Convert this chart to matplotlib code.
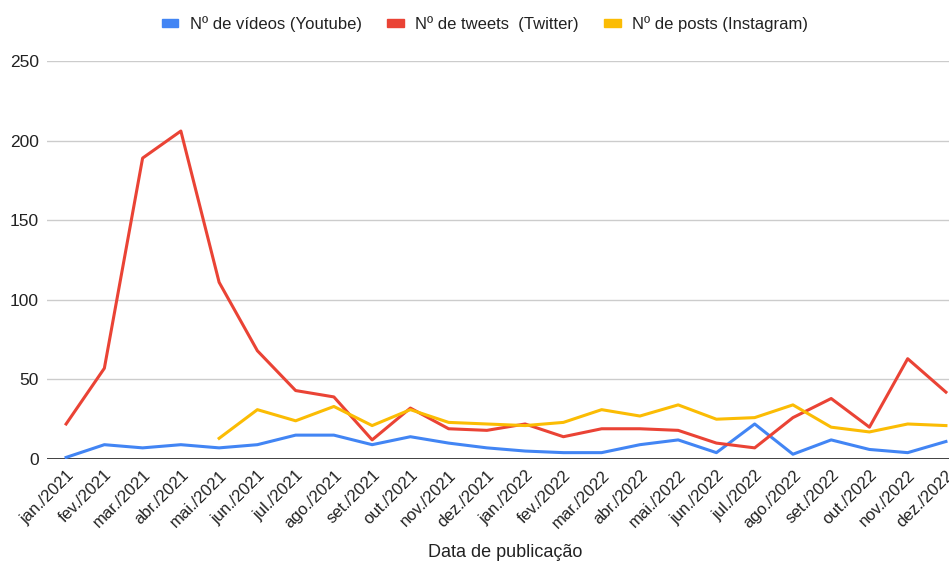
import matplotlib
matplotlib.use("Agg")
import matplotlib.pyplot as plt
from matplotlib.patches import Patch

plt.rcParams['font.family'] = ['Liberation Sans', 'DejaVu Sans']

months = ['jan./2021', 'fev./2021', 'mar./2021', 'abr./2021', 'mai./2021', 'jun./2021',
          'jul./2021', 'ago./2021', 'set./2021', 'out./2021', 'nov./2021', 'dez./2021',
          'jan./2022', 'fev./2022', 'mar./2022', 'abr./2022', 'mai./2022', 'jun./2022',
          'jul./2022', 'ago./2022', 'set./2022', 'out./2022', 'nov./2022', 'dez./2022']
youtube = [1, 9, 7, 9, 7, 9, 15, 15, 9, 14, 10, 7, 5, 4, 4, 9, 12, 4, 22, 3, 12, 6, 4, 11]
twitter = [22, 57, 189, 206, 111, 68, 43, 39, 12, 32, 19, 18, 22, 14, 19, 19, 18, 10, 7, 26, 38, 20, 63, 42]
# instagram starts in mai./2021
instagram = [None, None, None, None, 13, 31, 24, 33, 21, 31, 23, 22, 21, 23, 31, 27, 34, 25, 26, 34, 20, 17, 22, 21]

c_yt = '#4285F4'
c_tw = '#EA4335'
c_ig = '#FBBC04'

fig = plt.figure(figsize=(9.49, 5.63), dpi=100)
ax = fig.add_axes([0.0495, 0.1847, 0.9505, 0.707])

x = list(range(len(months)))
ig_x = [i for i, v in zip(x, instagram) if v is not None]
ig_y = [v for v in instagram if v is not None]

ax.plot(x, youtube, color=c_yt, lw=2.2, solid_joinstyle='round')
ax.plot(x, twitter, color=c_tw, lw=2.2, solid_joinstyle='round')
ax.plot(ig_x, ig_y, color=c_ig, lw=2.2, solid_joinstyle='round')

ax.set_xlim(-0.5, 23.08)
ax.set_ylim(0, 250)
ax.set_yticks([0, 50, 100, 150, 200, 250])
ax.yaxis.grid(True, color='#cccccc', lw=1)
ax.set_axisbelow(True)
ax.axhline(0, color='#333333', lw=1.3, zorder=1)
for s in ax.spines.values():
    s.set_visible(False)
ax.tick_params(axis='both', length=0, colors='#222222')
ax.tick_params(axis='y', pad=6, labelsize=12.5)
ax.set_xticks(x)
ax.set_xticklabels(months, rotation=45, ha='right', rotation_mode='anchor')
ax.tick_params(axis='x', pad=6, labelsize=12)

fig.text(0.532, 0.004, 'Data de publicação', ha='center', va='bottom', fontsize=13, color='#222222')

handles = [Patch(color=c_yt), Patch(color=c_tw), Patch(color=c_ig)]
labels = ['Nº de vídeos (Youtube)', 'Nº de tweets  (Twitter)', 'Nº de posts (Instagram)']
fig.legend(handles, labels, loc='center', bbox_to_anchor=(0.511, 0.957), ncol=3, frameon=False,
           fontsize=12, handlelength=1.0, handleheight=0.35, handletextpad=0.7, columnspacing=1.5,
           labelcolor='#222222')

fig.savefig('out.png', dpi=100)
